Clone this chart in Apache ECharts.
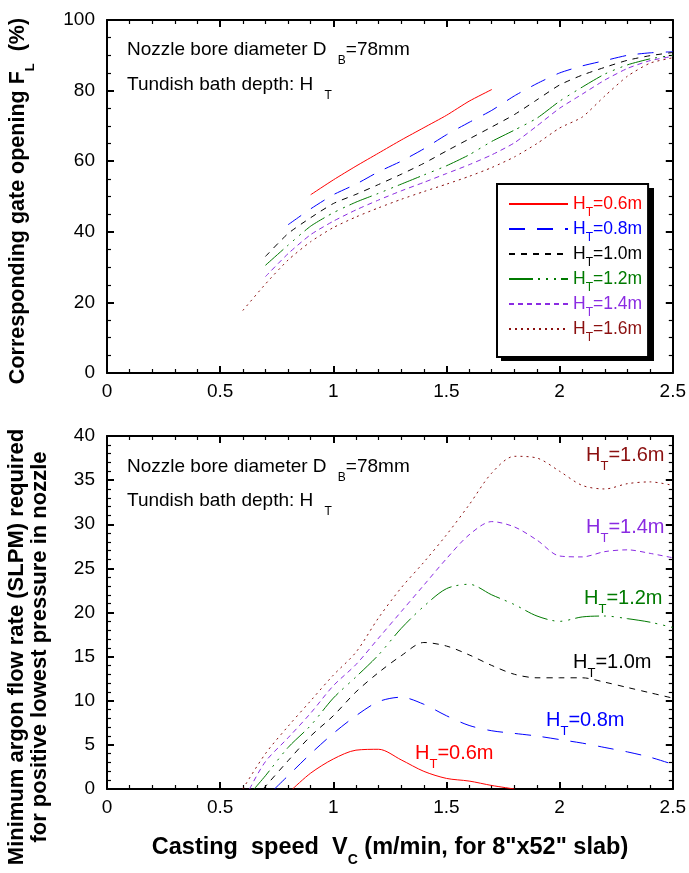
<!DOCTYPE html>
<html>
<head>
<meta charset="utf-8">
<script src="https://cdn.jsdelivr.net/npm/echarts@6/dist/echarts.min.js"></script>
<style>
  html, body { margin: 0; padding: 0; background: #fff; }
  #chart { width: 689px; height: 873px; }
</style>
</head>
<body>
<div id="chart"></div>
<script>
// Tundish bath depths H_T (m), one curve per depth
const depths = ['0.6', '0.8', '1.0', '1.2', '1.4', '1.6'];

// Casting speed grid (m/min) shared by both panels
const speedGrid = [0.6, 0.7, 0.8, 0.9, 1.0, 1.1, 1.2, 1.3, 1.4, 1.5,
                   1.6, 1.7, 1.8, 1.9, 2.0, 2.1, 2.2, 2.3, 2.4, 2.5];

// Upper panel: corresponding gate opening F_L (%)
const gateH06 = [null, null, null, 50.5, 54.7, 58.6, 62.3, 66, 69.5, 73, 77, 80.3,
                 null, null, null, null, null, null, null, null];
const gateH08 = [null, null, 42, 46.5, 50.5, 53.5, 57, 60, 63.5, 67.5, 71, 74.4,
                 78.5, 82, 85, 87, 88.5, 90, 90.7, 91];
const gateH10 = [null, 33, 39.5, 44, 48, 50.6, 53.4, 56.3, 59.4, 62.9, 66.3, 69.7,
                 73.2, 77.4, 81.6, 84.4, 86.6, 88.6, 89.9, 90.8];
const gateH12 = [null, 30.5, 36.2, 41.6, 45.4, 48.4, 50.9, 53.5, 56.1, 58.7, 61.8, 65.6,
                 68.8, 72.2, 77, 81, 84.7, 87.3, 89, 90];
const gateH14 = [null, 27.3, 33.8, 39.2, 43, 46.2, 49, 51.6, 54, 56.5, 59, 61.8,
                 65.2, 70, 75, 79, 83, 86.3, 88.5, 89.7];
const gateH16 = [17.7, 25.2, 32, 37.2, 41.2, 44.2, 46.8, 49.2, 51.4, 53.5, 55.7, 58.2,
                 61.2, 65, 69.4, 72.5, 78.5, 84.1, 87.8, 89.3];

// Lower panel: speed at which argon is first needed (flow = 0)
const argonOnset = [0.82, 0.74, 0.69, 0.65, 0.63, 0.60];
// Lower panel: minimum argon flow rate (SLPM)
const argonH06 = [null, null, null, 1.8, 3.4, 4.4, 4.5, 3.3, 2.0, 1.2, 0.9, 0.4,
                  0, null, null, null, null, null, null, null];
const argonH08 = [null, null, 1.5, 4.0, 6.3, 8.3, 9.9, 10.4, 9.6, 8.3, 7.2, 6.6,
                  6.3, 6.0, 5.6, 5.2, 4.7, 4.2, 3.6, 2.8];
const argonH10 = [null, 0.3, 3.2, 6.0, 8.3, 11.0, 13.2, 15.1, 16.6, 16.2, 15.2, 14.0,
                  13.0, 12.6, 12.6, 12.6, 12.1, 11.5, 10.9, 10.3];
const argonH12 = [null, 1.5, 4.7, 7.2, 10.3, 12.7, 15.2, 18.2, 20.7, 22.7, 23.2, 22.0,
                  20.9, 19.6, 19.0, 19.5, 19.6, 19.3, 18.9, 18.3];
const argonH14 = [null, 3.1, 5.8, 8.6, 11.7, 14.1, 17.1, 20.1, 23.1, 26.1, 28.8, 30.3,
                  29.7, 28.2, 26.4, 26.3, 26.9, 27.1, 26.7, 26.2];
const argonH16 = [null, 4.0, 7.1, 10.0, 12.9, 15.5, 19.4, 22.8, 25.7, 28.8, 32.2, 35.8,
                  37.7, 37.5, 36.0, 34.4, 34.0, 34.6, 34.8, 34.4];

const gateSets = [gateH06, gateH08, gateH10, gateH12, gateH14, gateH16];
const argonSets = [argonH06, argonH08, argonH10, argonH12, argonH14, argonH16];

// Line appearance for each depth
const lineColors = ['#ff0000', '#0000ff', '#000000', '#007a00', '#8a2be2', '#8b1010'];
const lineDashes = ['solid', [16, 12], [6, 6], [24, 5, 2, 6, 2, 6, 2, 5], [5, 4], [2, 4]];
const FONT = '"Liberation Sans", Arial, Helvetica, sans-serif';

const chart = echarts.init(document.getElementById('chart'), null, { renderer: 'canvas' });

function pairs(xs, ys) {
  const out = [];
  xs.forEach((x, i) => { if (ys[i] !== null) out.push([x, ys[i]]); });
  return out;
}

function argonPairs(k) {
  const onset = argonOnset[k];
  const out = [[onset, 0]];
  speedGrid.forEach((x, i) => {
    const v = argonSets[k][i];
    if (v !== null && x > onset + 1e-9) out.push([x, v]);
  });
  return out;
}

function axisPair(gridIndex, min, max, interval, minorSplit, pos, showLabel, isX) {
  return {
    type: 'value', gridIndex: gridIndex, min: min, max: max, interval: interval,
    position: pos,
    axisLine: { show: true, onZero: false, lineStyle: { color: '#000', width: 2 } },
    axisTick: { show: true, inside: true, length: 7, lineStyle: { color: '#000', width: 2 } },
    minorTick: { show: true, splitNumber: minorSplit, length: 4, lineStyle: { color: '#000', width: 1.2 } },
    splitLine: { show: false },
    minorSplitLine: { show: false },
    axisLabel: {
      show: showLabel, color: '#000', fontSize: 19, fontFamily: FONT,
      margin: isX ? 9 : 12
    }
  };
}

const series = [];
depths.forEach((d, k) => {
  series.push({
    name: 'top' + d, type: 'line', xAxisIndex: 0, yAxisIndex: 0,
    data: pairs(speedGrid, gateSets[k]),
    symbol: 'none', smooth: 0.2, animation: false,
    lineStyle: { color: lineColors[k], width: 1, type: lineDashes[k] },
    itemStyle: { color: lineColors[k] }
  });
});
depths.forEach((d, k) => {
  series.push({
    name: 'bot' + d, type: 'line', xAxisIndex: 2, yAxisIndex: 2,
    data: argonPairs(k),
    symbol: 'none', smooth: 0.3, animation: false,
    lineStyle: { color: lineColors[k], width: 1, type: lineDashes[k] },
    itemStyle: { color: lineColors[k] }
  });
});

// rich-text styles for subscripts
function subRich(size, subSize, drop, weight) {
  return {
    m: { fontSize: size, lineHeight: size + 2, fontFamily: FONT, fontWeight: weight || 'normal' },
    s: { fontSize: subSize, lineHeight: subSize, fontFamily: FONT, fontWeight: weight || 'normal',
         padding: [drop * 2, 0, 0, 0] },
    g: { fontSize: subSize, lineHeight: subSize, fontFamily: FONT, fontWeight: weight || 'normal',
         padding: [drop * 2, 0, 0, 6] }
  };
}

function textEl(x, y, text, color, rich, rot, align) {
  return {
    type: 'text', x: x, y: y, rotation: rot || 0, silent: true, z: 10,
    style: {
      text: text, fill: color, rich: rich,
      align: align || 'left', verticalAlign: 'middle'
    }
  };
}

const noteRich = subRich(19, 12, 11);
const curveRich = subRich(20, 13, 11);
const graphics = [
  // offset shadow behind the legend box
  { type: 'rect', silent: true, z: 1, shape: { x: 501, y: 188, width: 153, height: 173 },
    style: { fill: '#000' } },
  // panel notes
  textEl(127, 50, '{m|Nozzle bore diameter D }{g|B}{m|=78mm}', '#000', noteRich),
  textEl(127, 85, '{m|Tundish bath depth: H }{g|T}', '#000', noteRich),
  textEl(127, 467, '{m|Nozzle bore diameter D }{g|B}{m|=78mm}', '#000', noteRich),
  textEl(127, 501, '{m|Tundish bath depth: H }{g|T}', '#000', noteRich),
  // curve labels, lower panel
  textEl(586, 455, '{m|H}{s|T}{m|=1.6m}', lineColors[5], curveRich),
  textEl(586, 527, '{m|H}{s|T}{m|=1.4m}', lineColors[4], curveRich),
  textEl(584, 598, '{m|H}{s|T}{m|=1.2m}', lineColors[3], curveRich),
  textEl(573, 662, '{m|H}{s|T}{m|=1.0m}', lineColors[2], curveRich),
  textEl(546, 720, '{m|H}{s|T}{m|=0.8m}', lineColors[1], curveRich),
  textEl(415, 753, '{m|H}{s|T}{m|=0.6m}', lineColors[0], curveRich),
  // axis titles
  textEl(18, 201, '{m|Corresponding gate opening F}{s|L}{m|  (%)}', '#000',
         subRich(21.5, 13, 12, 'bold'), Math.PI / 2, 'center'),
  textEl(17, 647, '{m|Minimum argon flow rate (SLPM) required}', '#000',
         subRich(22, 13, 11, 'bold'), Math.PI / 2, 'center'),
  textEl(40, 647, '{m|for positive lowest pressure in nozzle}', '#000',
         subRich(22, 13, 11, 'bold'), Math.PI / 2, 'center'),
  textEl(390, 848, '{m|Casting  speed  V}{s|C}{m| (m/min, for 8"x52" slab)}', '#000',
         subRich(23.5, 14, 12, 'bold'), 0, 'center')
];

const option = {
  backgroundColor: '#fff',
  animation: false,
  grid: [
    { left: 107, right: 11, top: 20, height: 353, containLabel: false },
    { left: 107, right: 11, top: 436, height: 353, containLabel: false }
  ],
  xAxis: [
    axisPair(0, 0, 2.5, 0.5, 5, 'bottom', true, true),
    axisPair(0, 0, 2.5, 0.5, 5, 'top', false, true),
    axisPair(1, 0, 2.5, 0.5, 5, 'bottom', true, true),
    axisPair(1, 0, 2.5, 0.5, 5, 'top', false, true)
  ],
  yAxis: [
    axisPair(0, 0, 100, 20, 4, 'left', true, false),
    axisPair(0, 0, 100, 20, 4, 'right', false, false),
    axisPair(1, 0, 40, 5, 5, 'left', true, false),
    axisPair(1, 0, 40, 5, 5, 'right', false, false)
  ],
  legend: {
    orient: 'vertical', left: 497, top: 184, z: 5,
    itemWidth: 59, itemHeight: 14, itemGap: -4,
    padding: [5.5, 6, 13.5, 11],
    backgroundColor: '#fff', borderColor: '#000', borderWidth: 2,
    selectedMode: false,
    itemStyle: { opacity: 0 },
    data: depths.map((d, k) => ({ name: 'top' + d, textStyle: { color: lineColors[k] } })),
    formatter: name => '{m|H}{s|T}{m|=' + name.slice(3) + 'm}',
    textStyle: { fontFamily: FONT, fontSize: 17.5, width: 72, rich: {
      m: { fontSize: 17.5, lineHeight: 20, fontFamily: FONT },
      s: { fontSize: 12, lineHeight: 12, fontFamily: FONT, padding: [17, 0, 0, 0] }
    } }
  },
  graphic: graphics,
  series: series
};

chart.setOption(option);
</script>
</body>
</html>
